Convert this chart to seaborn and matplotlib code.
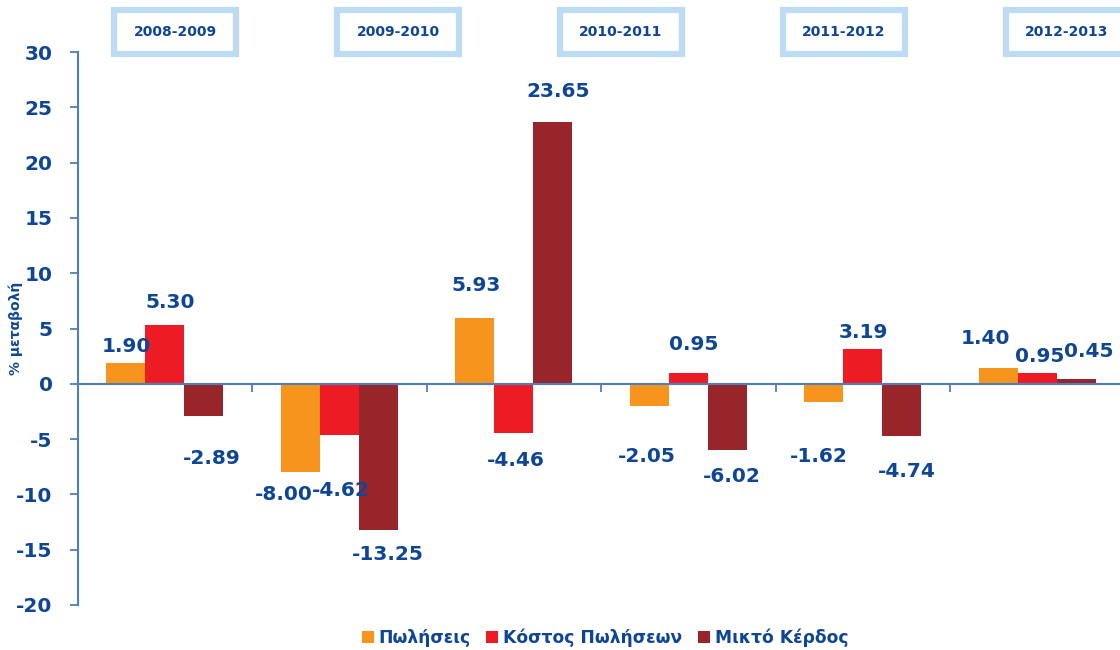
import matplotlib
matplotlib.use("Agg")
import matplotlib.pyplot as plt
from matplotlib.patches import Rectangle
import seaborn as sns
import pandas as pd

# ---- data ----
periods = ["2008-2009", "2009-2010", "2010-2011", "2011-2012", "2012-2013", ""]
series_names = ["Πωλήσεις", "Κόστος Πωλήσεων", "Μικτό Κέρδος"]
sales = [1.90, -8.00, 5.93, -2.05, -1.62, 1.40]
cost_of_sales = [5.30, -4.62, -4.46, 0.95, 3.19, 0.95]
gross_profit = [-2.89, -13.25, 23.65, -6.02, -4.74, 0.45]
year_boxes = ["2008-2009", "2009-2010", "2010-2011", "2011-2012", "2012-2013"]
y_ticks = [-20, -15, -10, -5, 0, 5, 10, 15, 20, 25, 30]

# label offsets in pixels (dx, dy downward) relative to bar end
label_offsets = [
    [(1, -16), (-16, 22), (1, -33), (-2, 50), (-5, 55), (-13, -30)],
    [(5, -23), (2, 56), (2, 27), (5, -29), (1, -16), (2, -17)],
    [(8, 43), (10, 24), (5, -31), (5, 26), (5, 35), (13, -27)],
]

colors = ["#F7941D", "#ED1C24", "#982529"]
text_color = "#0E4595"
spine_color = "#4F7FBA"

W, H = 1120, 650
cat_ids = list(range(len(periods)))
df = pd.DataFrame({
    "cat": cat_ids * 3,
    "series": sum([[s] * len(periods) for s in series_names], []),
    "value": sales + cost_of_sales + gross_profit,
})

sns.set_theme(style="white")
plt.rcParams["font.family"] = ["DejaVu Sans"]

fig = plt.figure(figsize=(W / 100, H / 100), dpi=100)
ax = fig.add_axes([77.5 / W, 1 - 605 / H, 1047 / W, (605 - 52) / H])

sns.barplot(data=df, x="cat", y="value", hue="series", hue_order=series_names,
            palette=colors, width=0.67, gap=0, ax=ax, legend=True,
            edgecolor="none", linewidth=0, saturation=1)

ax.set_ylim(-20, 30)
ax.set_xlim(-0.5, len(periods) - 0.5)
ax.set_yticks(y_ticks)
ax.set_yticklabels([str(t) for t in y_ticks])
ax.set_xticks([])
ax.set_xticks([i + 0.5 for i in range(len(periods) - 1)], minor=True)
ax.tick_params(axis="x", which="minor", direction="out", length=6, width=1.3,
               color=spine_color, bottom=True)
ax.tick_params(axis="y", which="major", direction="out", length=6, width=1.3,
               color=spine_color, left=True, pad=12, labelsize=14.5,
               labelcolor=text_color)
for lab in ax.get_yticklabels():
    lab.set_fontweight("bold")
ax.set_xlabel("")
ax.set_ylabel("% μεταβολή", fontsize=10, fontweight="bold", color=text_color)
ax.yaxis.set_label_coords(-0.0525, 0.5)

for s in ["top", "right"]:
    ax.spines[s].set_visible(False)
ax.spines["bottom"].set_position(("data", 0))
ax.spines["bottom"].set_color(spine_color)
ax.spines["bottom"].set_linewidth(1.5)
ax.spines["left"].set_color(spine_color)
ax.spines["left"].set_linewidth(1.5)
ax.grid(False)

# data labels
all_series = [sales, cost_of_sales, gross_profit]
for si, container in enumerate(ax.containers):
    for ci, bar in enumerate(container):
        val = all_series[si][ci]
        dx, dy = label_offsets[si][ci]
        xc = bar.get_x() + bar.get_width() / 2
        ax.annotate(f"{val:.2f}", xy=(xc, val), xytext=(dx, -dy),
                    textcoords="offset pixels", ha="center", va="center",
                    fontsize=14.5, fontweight="bold", color=text_color,
                    annotation_clip=False)

# year boxes at the top
bw, bh = 122, 44
for i, yb in enumerate(year_boxes):
    cx = 175 + 223 * i
    cy = 32
    fig.patches.append(Rectangle(((cx - bw / 2) / W, 1 - (cy + bh / 2) / H), bw / W, bh / H,
                                 transform=fig.transFigure, facecolor="white",
                                 edgecolor="#BDDCF4", linewidth=4.5, zorder=5))
    fig.text(cx / W, 1 - cy / H, yb, ha="center", va="center",
             fontsize=10, fontweight="bold", color=text_color, zorder=6)

# legend
handles, labels = ax.get_legend_handles_labels()
ax.legend_.remove()
leg = fig.legend(handles, labels, loc="center", bbox_to_anchor=(605 / W, 1 - 638 / H),
                 ncol=3, frameon=False, handlelength=0.7, handleheight=0.7,
                 handletextpad=0.3, columnspacing=0.9,
                 prop={"size": 12.3, "weight": "bold"})
for t in leg.get_texts():
    t.set_color(text_color)

fig.savefig("out.png", dpi=100)
